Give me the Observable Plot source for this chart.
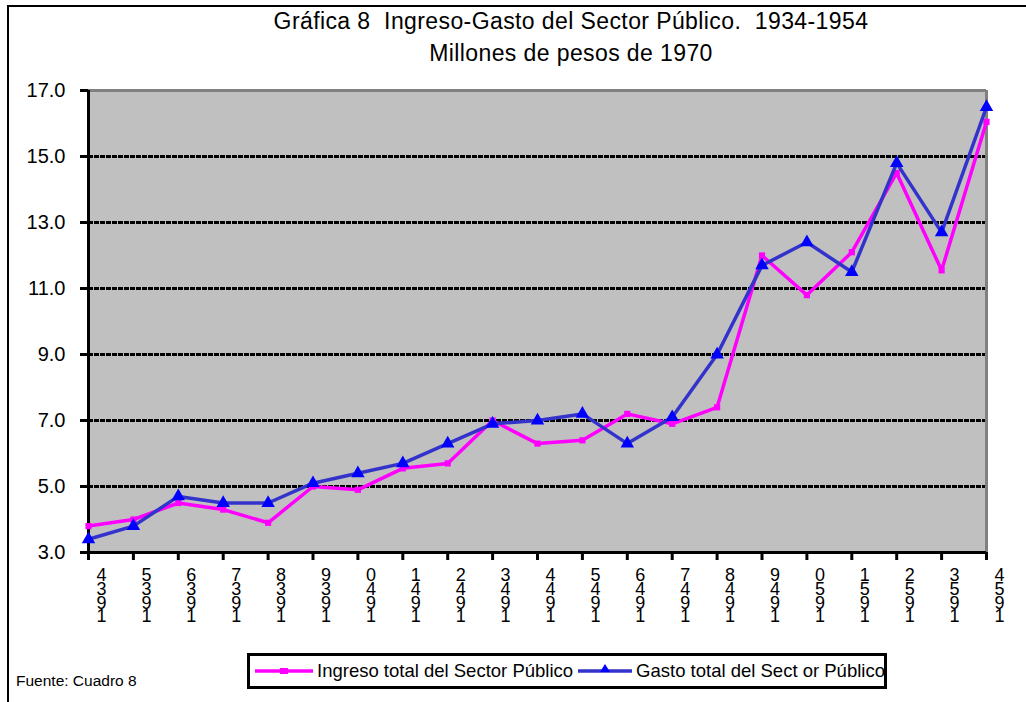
<!DOCTYPE html>
<html>
<head>
<meta charset="utf-8">
<script src="https://cdn.jsdelivr.net/npm/d3@7"></script>
<script src="https://cdn.jsdelivr.net/npm/@observablehq/plot@0.6"></script>
<style>
  html, body { margin: 0; padding: 0; background: #fff; }
  #wrap { position: relative; width: 1026px; height: 702px; overflow: hidden; font-family: "Liberation Sans", Arial, sans-serif; color: #000; }
  #border { position: absolute; left: 7px; top: 5px; width: 1100px; height: 800px; border: 2.5px solid #000; box-sizing: border-box; }
  .title { position: absolute; left: 0; width: 1142px; text-align: center; font-size: 23px; line-height: 26px; white-space: pre; letter-spacing: 0.4px; }
  #plot { position: absolute; left: 0; top: 78px; }
  #legend { position: absolute; left: 247px; top: 653px; width: 640px; height: 36px; border: 3.5px solid #000; box-sizing: border-box; display: flex; align-items: center; font-size: 18.5px; white-space: pre; overflow: hidden; }
  #legend .item { display: flex; align-items: center; flex: none; }
  #fuente { position: absolute; left: 16px; top: 672px; font-size: 15.5px; }
</style>
</head>
<body>
<div id="wrap">
  <div id="border"></div>
  <div class="title" id="t1" style="top:8px"></div>
  <div class="title" id="t2" style="top:40px"></div>
  <div id="plot"></div>
  <div id="legend"></div>
  <div id="fuente"></div>
</div>
<script>
// ---- data ----
const years = [1934,1935,1936,1937,1938,1939,1940,1941,1942,1943,1944,1945,1946,1947,1948,1949,1950,1951,1952,1953,1954];
const ingreso = [3.8,4.0,4.5,4.3,3.9,5.0,4.9,5.55,5.7,7.0,6.3,6.4,7.2,6.9,7.4,12.0,10.8,12.1,14.5,11.55,16.05];
const gasto = [3.4,3.8,4.7,4.5,4.5,5.1,5.4,5.7,6.3,6.9,7.0,7.2,6.3,7.1,9.0,11.7,12.4,11.5,14.8,12.7,16.5];
const yTicks = [3,5,7,9,11,13,15,17];
const gridValues = [5,7,9,11,13,15];
const seriesNames = ["Ingreso total del Sector Público", "Gasto total del Sect or Público"];
const titleText = "Gráfica 8  Ingreso-Gasto del Sector Público.  1934-1954";
const subtitleText = "Millones de pesos de 1970";
const sourceText = "Fuente: Cuadro 8";

const colIngreso = "#FF00FF";
const colGastoLine = "#3333CC";
const colGastoMark = "#0000FF";

document.getElementById("t1").textContent = titleText;
document.getElementById("t2").textContent = subtitleText;
document.getElementById("fuente").textContent = sourceText;

const ing = years.map((y, i) => ({year: y, value: ingreso[i]}));
const gas = years.map((y, i) => ({year: y, value: gasto[i]}));

const chart = Plot.plot({
  width: 1026,
  height: 576,
  marginLeft: 88,
  marginRight: 40,
  marginTop: 12,
  marginBottom: 102,
  style: {fontFamily: "'Liberation Sans', Arial, sans-serif", background: "transparent", overflow: "visible", color: "#000"},
  x: {domain: [1934, 1954]},
  y: {domain: [3, 17]},
  marks: [
    Plot.frame({fill: "#C0C0C0", stroke: "none"}),
    Plot.ruleY(gridValues, {stroke: "#000", strokeWidth: 3, strokeDasharray: "5,1"}),
    Plot.ruleY([17], {stroke: "#808080", strokeWidth: 3}),
    Plot.ruleX([1954], {stroke: "#808080", strokeWidth: 3}),
    Plot.axisY({ticks: yTicks, tickSize: 8, strokeWidth: 3, tickFormat: d3.format(".1f"), fontSize: 20, tickPadding: 15, label: null}),
    Plot.axisX({ticks: years, tickSize: 8, strokeWidth: 3, tickFormat: () => "", label: null}),
    Plot.ruleX([1934], {stroke: "#000", strokeWidth: 3}),
    Plot.ruleY([3], {stroke: "#000", strokeWidth: 3}),
    Plot.text(years, {
      x: d => d, y: () => 3,
      text: d => String(d).split("").reverse().join("\n"),
      dx: 13, dy: 19, lineAnchor: "top", lineHeight: 0.76, fontSize: 18, textAnchor: "middle"
    }),
    Plot.lineY(ing, {x: "year", y: "value", stroke: colIngreso, strokeWidth: 3.5}),
    Plot.dot(ing, {x: "year", y: "value", symbol: "square", r: 3.5, fill: colIngreso}),
    Plot.lineY(gas, {x: "year", y: "value", stroke: colGastoLine, strokeWidth: 3.5}),
    Plot.dot(gas, {x: "year", y: "value", symbol: "triangle", r: 5, fill: colGastoMark})
  ]
});
document.getElementById("plot").appendChild(chart);

// legend
const legend = document.getElementById("legend");
function sample(lineColor, markColor, shape, w) {
  const ns = "http://www.w3.org/2000/svg";
  const s = document.createElementNS(ns, "svg");
  s.setAttribute("width", w); s.setAttribute("height", 16);
  const l = document.createElementNS(ns, "line");
  l.setAttribute("x1", 0); l.setAttribute("x2", w); l.setAttribute("y1", 8); l.setAttribute("y2", 8);
  l.setAttribute("stroke", lineColor); l.setAttribute("stroke-width", 3.5);
  s.appendChild(l);
  const m = document.createElementNS(ns, "path");
  m.setAttribute("fill", markColor);
  const c = w / 2;
  m.setAttribute("d", shape === "square" ? `M${c-4},5h8v6h-8z` : `M${c},1L${c+5},9L${c-5},9Z`);
  s.appendChild(m);
  return s;
}
const items = [[colIngreso, colIngreso, "square", seriesNames[0], 58, 5], [colGastoLine, colGastoMark, "triangle", seriesNames[1], 54, 5]];
items.forEach(([lc, mc, sh, name, w, ml]) => {
  const it = document.createElement("div");
  it.className = "item";
  it.style.marginLeft = ml + "px";
  const sv = sample(lc, mc, sh, w);
  sv.style.marginRight = "4px";
  it.appendChild(sv);
  const sp = document.createElement("span");
  sp.textContent = name;
  it.appendChild(sp);
  legend.appendChild(it);
});
</script>
</body>
</html>
